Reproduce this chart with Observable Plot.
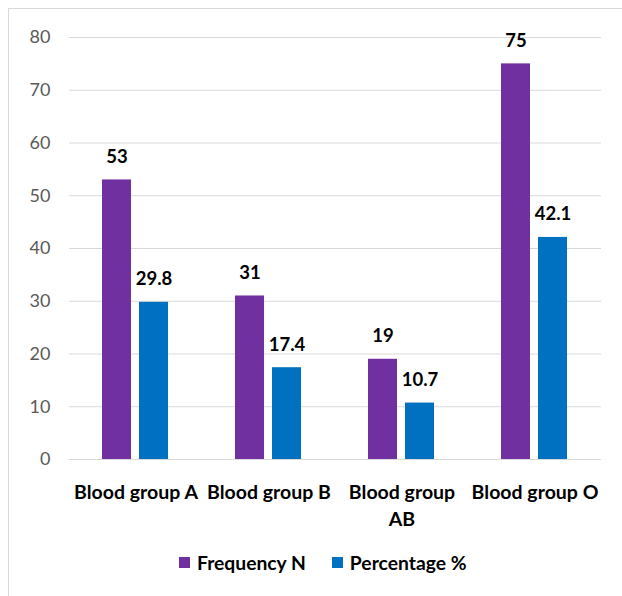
<!DOCTYPE html>
<html>
<head>
<meta charset="utf-8">
<script src="https://cdn.jsdelivr.net/npm/d3@7"></script>
<script src="https://cdn.jsdelivr.net/npm/@observablehq/plot@0.6"></script>
<style>
  html, body { margin: 0; padding: 0; overflow: hidden; background: #fff; width: 622px; height: 596px; }
  #frame { position: absolute; left: 8px; top: 8px; width: 700px; height: 700px; border: 1px solid #d9d9d9; box-sizing: border-box; }
  #chart { position: absolute; left: 0; top: 0; }
  #legend { position: absolute; left: 170px; top: 542px; display: flex; align-items: center; font-family: Lato, sans-serif; font-weight: bold; font-size: 19.3px; line-height: 23px; color: #000; }
  .sw { width: 11px; height: 11px; display: inline-block; margin-right: 7px; }
  .item { display: flex; align-items: center; margin-right: 26px; }
</style>
</head>
<body>
<div id="frame">
  <div id="chart"></div>
  <div id="legend"></div>
</div>
<script>
const categories = ["Blood group A", "Blood group B", "Blood group AB", "Blood group O"];
const seriesNames = ["Frequency N", "Percentage %"];
const frequency = [53, 31, 19, 75];
const percentage = [29.8, 17.4, 10.7, 42.1];
const colors = ["#7030A0", "#0070C0"];
const yTicks = [0, 10, 20, 30, 40, 50, 60, 70, 80];

const data = [];
categories.forEach((c, i) => {
  data.push({group: c, series: seriesNames[0], value: frequency[i]});
  data.push({group: c, series: seriesNames[1], value: percentage[i]});
});

const font = "Lato, sans-serif";
const chart = Plot.plot({
  width: 613,
  height: 530,
  marginLeft: 59,
  marginRight: 20,
  marginTop: 28,
  marginBottom: 80,
  style: {fontFamily: font, fontSize: "16px", background: "transparent"},
  fx: {domain: categories, padding: 0, label: null, axis: null},
  x: {domain: seriesNames, paddingInner: 0.21, paddingOuter: 0.86, axis: null},
  y: {domain: [0, 80], label: null},
  color: {domain: seriesNames, range: colors},
  marks: [
    Plot.gridY(yTicks, {stroke: "#d9d9d9", strokeOpacity: 1, strokeWidth: 1}),
    Plot.axisY(yTicks, {tickSize: 0, tickPadding: 19, fill: "#595959", fontSize: 18, label: null}),
    Plot.axisFx({anchor: "bottom", tickSize: 0, tickPadding: 20, fontWeight: "bold", fontSize: 19.5, lineHeight: 1.38, fill: "#000", lineAnchor: "top", label: null,
      tickFormat: d => d === "Blood group AB" ? "Blood group\nAB" : d}),
    Plot.barY(data, {fx: "group", x: "series", y: "value", fill: "series"}),
    Plot.text(data, {fx: "group", x: "series", y: "value", text: d => String(d.value), dy: -17, lineAnchor: "bottom", fontWeight: "bold", fontSize: 18.5, fill: "#000"})
  ]
});
document.getElementById("chart").appendChild(chart);

const legend = document.getElementById("legend");
seriesNames.forEach((s, i) => {
  const item = document.createElement("div");
  item.className = "item";
  const sw = document.createElement("span");
  sw.className = "sw";
  sw.style.background = colors[i];
  item.appendChild(sw);
  item.appendChild(document.createTextNode(s));
  legend.appendChild(item);
});
</script>
</body>
</html>
